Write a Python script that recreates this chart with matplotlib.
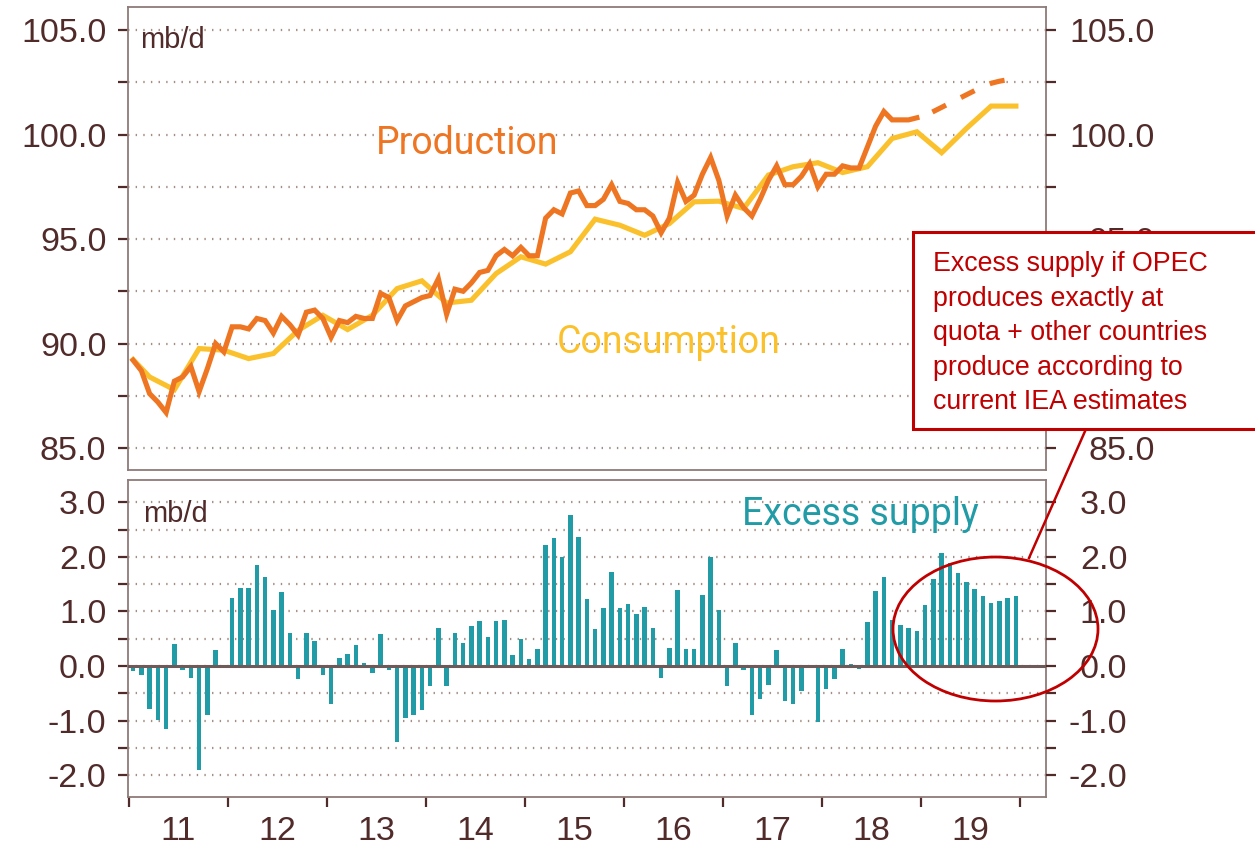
import matplotlib
matplotlib.use("Agg")
import matplotlib.pyplot as plt
import numpy as np
from matplotlib.patches import Rectangle, Ellipse
from matplotlib.lines import Line2D

plt.rcParams['lines.scale_dashes'] = False

# ---------------- data ----------------
years = ["11", "12", "13", "14", "15", "16", "17", "18", "19"]

# Monthly production, Jan 2011 - Dec 2018 (mb/d)
production = [
    89.2, 88.7, 87.6, 87.2, 86.7, 88.2, 88.4, 88.9, 87.7, 88.8, 90.0, 89.6,
    90.8, 90.8, 90.7, 91.2, 91.1, 90.5, 91.3, 90.9, 90.4, 91.5, 91.6, 91.2,
    90.3, 91.1, 91.0, 91.3, 91.2, 91.2, 92.4, 92.2, 91.1, 91.8, 92.0, 92.2,
    92.3, 93.1, 91.4, 92.6, 92.5, 92.9, 93.4, 93.5, 94.2, 94.5, 94.2, 94.6,
    94.2, 94.2, 96.0, 96.4, 96.2, 97.2, 97.3, 96.6, 96.6, 96.9, 97.6, 96.8,
    96.7, 96.4, 96.4, 96.1, 95.3, 96.0, 97.7, 96.8, 97.1, 98.1, 98.9, 97.8,
    96.1, 97.1, 96.5, 96.1, 96.9, 97.8, 98.5, 97.6, 97.6, 98.0, 98.6, 97.5,
    98.1, 98.1, 98.5, 98.4, 98.4, 99.4, 100.4, 101.1, 100.7, 100.7, 100.7, 100.8,
]
# Projected production, Dec 2018 - Dec 2019 (dashed)
production_forecast = [100.8, 100.9, 101.1, 101.3, 101.5, 101.7, 101.9,
                       102.1, 102.3, 102.45, 102.55, 102.62, 102.68]

# Consumption (quarterly points), month index since Jan 2011
consumption_month = [0, 2, 5, 8, 11, 14, 17, 20, 23, 26, 29, 32, 35, 38, 41,
                     44, 47, 50, 53, 56, 59, 62, 65, 68, 71, 74, 77, 80, 83,
                     86, 89, 92, 95, 98, 101, 104, 107]
consumption = [89.23, 88.40, 87.79, 89.76, 89.68, 89.28, 89.52, 90.63, 91.35,
               90.67, 91.35, 92.63, 93.00, 91.94, 92.07, 93.35, 94.15, 93.80,
               94.39, 95.95, 95.66, 95.18, 95.74, 96.78, 96.81, 96.46, 98.06,
               98.46, 98.65, 98.18, 98.46, 99.81, 100.13, 99.13, 100.29,
               101.36, 101.36]

# Monthly excess supply, Jan 2011 - Dec 2019 (mb/d)
excess = [
    -0.09, -0.16, -0.78, -0.98, -1.15, 0.41, -0.07, -0.21, -1.90, -0.89, 0.29, 0.00,
    1.24, 1.43, 1.43, 1.85, 1.64, 1.03, 1.35, 0.60, -0.23, 0.61, 0.46, -0.17,
    -0.70, 0.15, 0.22, 0.38, 0.06, -0.13, 0.59, -0.08, -1.40, -0.96, -0.89, -0.81,
    -0.37, 0.69, -0.36, 0.61, 0.42, 0.74, 0.83, 0.54, 0.83, 0.84, 0.21, 0.49,
    0.13, 0.31, 2.21, 2.34, 1.99, 2.76, 2.36, 1.22, 0.68, 1.07, 1.72, 1.07,
    1.14, 0.96, 1.09, 0.70, -0.21, 0.34, 1.39, 0.32, 0.32, 1.31, 2.00, 1.02,
    -0.37, 0.43, -0.07, -0.89, -0.61, -0.35, 0.29, -0.64, -0.70, -0.46, 0.00, -1.03,
    -0.42, -0.24, 0.31, 0.03, -0.05, 0.81, 1.38, 1.63, 0.84, 0.76, 0.70, 0.65,
    1.12, 1.59, 2.07, 1.89, 1.71, 1.54, 1.41, 1.28, 1.16, 1.20, 1.24, 1.28,
]

annotation_lines = ["Excess supply if OPEC", "produces exactly at",
                    "quota + other countries", "produce according to",
                    "current IEA estimates"]

# ---------------- style ----------------
ORANGE = "#EE7623"
YELLOW = "#FBC12D"
TEAL = "#219BA6"
RED = "#C00000"
TXT = "#512A2A"
SPINE = "#8E7B78"
GRID = "#A38E84"
TICK_FONT = "Liberation Sans"
LABEL_FONT = "Roboto"
TICK_SIZE = 24.5

W, H = 1255, 851
fig = plt.figure(figsize=(W / 100, H / 100), dpi=100)

def fx(px):
    return px / W

def fy(py):
    return 1 - py / H

ax1 = fig.add_axes([fx(128), fy(470), fx(1046) - fx(128), fy(7) - fy(470)])
ax2 = fig.add_axes([fx(128), fy(797), fx(1046) - fx(128), fy(480) - fy(797)])

xlim = (-0.62, 110.65)

def style_axis(ax, major, labels, ylim, right_pad):
    ax.set_xlim(*xlim)
    ax.set_ylim(*ylim)
    for s in ax.spines.values():
        s.set_color(SPINE)
        s.set_linewidth(1.3)
    ax.set_yticks(major)
    ax.set_yticklabels(labels)
    ax.tick_params(axis='y', which='major', left=True, right=False,
                   labelleft=True, labelright=False, length=7.5, width=1.6,
                   color=TXT, labelcolor=TXT, labelsize=TICK_SIZE, pad=8)
    for lab in ax.get_yticklabels():
        lab.set_fontfamily(TICK_FONT)
    for v in major:
        ax.axhline(v, color=GRID, lw=1.6, ls=(0, (1.0, 4.5)), zorder=0.5)
    # right-hand axis, labels right-aligned
    axr = ax.twinx()
    axr.set_ylim(*ylim)
    axr.set_yticks(major)
    axr.set_yticklabels(labels)
    for s in axr.spines.values():
        s.set_visible(False)
    axr.tick_params(axis='y', which='major', left=False, right=True,
                    labelleft=False, labelright=True, length=7.5, width=1.6,
                    color=TXT, labelcolor=TXT, labelsize=TICK_SIZE, pad=right_pad)
    for lab in axr.get_yticklabels():
        lab.set_fontfamily(TICK_FONT)
        lab.set_horizontalalignment('right')
    return axr

# ---- top panel ----
top_ticks = [85 + 2.5 * i for i in range(9)]
top_labels = [f"{v:.1f}" if v % 5 == 0 else "" for v in top_ticks]
style_axis(ax1, top_ticks, top_labels, (83.95, 106.1), right_pad=71)
ax1.tick_params(axis='x', bottom=False, labelbottom=False)

months_prod = np.arange(len(production))
months_fc = np.arange(len(production) - 1, len(production) - 1 + len(production_forecast))
ax1.plot(consumption_month, consumption, color=YELLOW, lw=3.7, zorder=3,
         solid_joinstyle='miter')
ax1.plot(months_prod, production, color=ORANGE, lw=3.7, zorder=4,
         solid_joinstyle='miter')
ax1.plot(months_fc, production_forecast, color=ORANGE, lw=3.7, zorder=4,
         ls=(11, (11, 12)), dash_capstyle='butt')

ax1.text(fx(140), fy(48), "mb/d", transform=fig.transFigure, fontsize=21,
         family=TICK_FONT, color=TXT, va='baseline', ha='left')
ax1.text(fx(376), fy(154), "Production", transform=fig.transFigure,
         fontsize=27, family=LABEL_FONT, color=ORANGE, va='baseline', ha='left')
ax1.text(fx(557), fy(353), "Consumption", transform=fig.transFigure,
         fontsize=27, family=LABEL_FONT, color=YELLOW, va='baseline', ha='left')

# ---- bottom panel ----
bot_ticks = [-2.0 + 0.5 * i for i in range(11)]
bot_labels = [f"{v:.1f}" if v == int(v) else "" for v in bot_ticks]
style_axis(ax2, bot_ticks, bot_labels, (-2.40, 3.41), right_pad=51)

months_all = np.arange(len(excess))
ax2.bar(months_all, excess, width=0.55, color=TEAL, zorder=2)
ax2.axhline(0, color="#6E5A58", lw=2.2, zorder=3)

major_x = [-0.5 + 12 * k for k in range(len(years) + 1)]
minor_x = [5.5 + 12 * k for k in range(len(years))]
ax2.set_xticks(major_x)
ax2.set_xticklabels([""] * len(major_x))
ax2.set_xticks(minor_x, minor=True)
ax2.set_xticklabels(years, minor=True)
ax2.tick_params(axis='x', which='major', length=7.5, width=1.6, color=TXT)
ax2.tick_params(axis='x', which='minor', length=0, labelsize=TICK_SIZE,
                labelcolor=TXT, pad=14)
for lab in ax2.get_xticklabels(minor=True):
    lab.set_fontfamily(TICK_FONT)

ax2.text(fx(143), fy(522), "mb/d", transform=fig.transFigure, fontsize=21,
         family=TICK_FONT, color=TXT, va='baseline', ha='left')
ax2.text(fx(742), fy(525), "Excess supply", transform=fig.transFigure,
         fontsize=27, family=LABEL_FONT, color=TEAL, va='baseline', ha='left')

# ---- annotation ----
ell = Ellipse((fx(995.5), fy(629)), fx(205), 144 / H, transform=fig.transFigure,
              fill=False, edgecolor=RED, lw=2.0, zorder=5)
fig.patches.append(ell)
fig.lines.append(Line2D([fx(1029), fx(1086)], [fy(558), fy(429)],
                        transform=fig.transFigure, color=RED, lw=1.8, zorder=5))
box = Rectangle((fx(913), fy(429)), fx(1270) - fx(913), fy(232) - fy(429),
                transform=fig.transFigure, facecolor="white", edgecolor=RED,
                lw=2.2, zorder=6, clip_on=False)
fig.patches.append(box)
for i, line in enumerate(annotation_lines):
    fig.text(fx(933), fy(271 + 34.6 * i), line, fontsize=19.3, family=TICK_FONT,
             color=RED, va='baseline', ha='left', zorder=7)

fig.savefig("out.png", dpi=100)
